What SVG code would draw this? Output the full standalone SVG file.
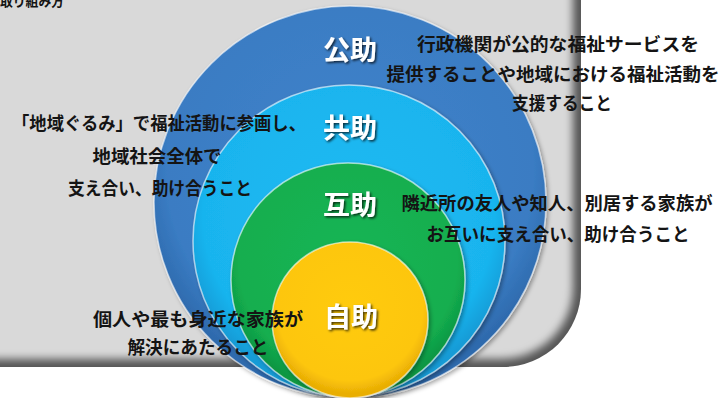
<svg xmlns="http://www.w3.org/2000/svg" width="722" height="398" viewBox="0 0 722 398">
  <defs>
    <style>
      .desc { font-family: "Noto Sans CJK JP", "Noto Sans", sans-serif; font-weight: 700; font-size: 18px; fill: #141414; text-anchor: middle; }
      .label { font-family: "Noto Sans CJK JP", "Noto Sans", sans-serif; font-weight: 700; font-size: 27px; fill: #ffffff; text-anchor: middle; filter: url(#txtShadow); }
      .ring { stroke: #ffffff; stroke-opacity: 0.6; stroke-width: 1.5; filter: url(#circShadow); }
    </style>
    <filter id="txtShadow" x="-20%" y="-20%" width="150%" height="150%">
      <feDropShadow dx="1.5" dy="1.5" stdDeviation="0.8" flood-color="#000" flood-opacity="0.75"/>
    </filter>
    <filter id="circShadow" x="-10%" y="-10%" width="125%" height="125%">
      <feDropShadow dx="2" dy="2" stdDeviation="2" flood-color="#000" flood-opacity="0.35"/>
    </filter>
    <filter id="bevelBlur" x="-10%" y="-10%" width="120%" height="120%">
      <feGaussianBlur stdDeviation="4"/>
    </filter>
    <clipPath id="bgClip">
      <path d="M -20 -20 H 581 V 289 A 78 78 0 0 1 503 367 H -20 Z"/>
    </clipPath>
    <radialGradient id="gBlue" cx="50%" cy="42%" r="55%">
      <stop offset="0" stop-color="#3f83cb"/>
      <stop offset="0.85" stop-color="#3a7cc3"/>
      <stop offset="1" stop-color="#2e6aad"/>
    </radialGradient>
    <radialGradient id="gLight" cx="50%" cy="42%" r="55%">
      <stop offset="0" stop-color="#1fbaf2"/>
      <stop offset="0.85" stop-color="#19b4ee"/>
      <stop offset="1" stop-color="#129bd6"/>
    </radialGradient>
    <radialGradient id="gGreen" cx="50%" cy="42%" r="55%">
      <stop offset="0" stop-color="#17b554"/>
      <stop offset="0.85" stop-color="#13ae4f"/>
      <stop offset="1" stop-color="#0e9743"/>
    </radialGradient>
    <radialGradient id="gYellow" cx="50%" cy="42%" r="55%">
      <stop offset="0" stop-color="#ffcb10"/>
      <stop offset="0.85" stop-color="#fdc60a"/>
      <stop offset="1" stop-color="#e9ae05"/>
    </radialGradient>
  </defs>

  <rect x="0" y="0" width="722" height="398" fill="#ffffff"/>

  <g id="background">
    <path d="M -20 -20 H 581 V 289 A 78 78 0 0 1 503 367 H -20 Z" fill="#555555"/>
    <g clip-path="url(#bgClip)">
      <path d="M -30 -30 H 573 V 287 A 72 72 0 0 1 501 359 H -30 Z" fill="#d9d9d9" filter="url(#bevelBlur)"/>
    </g>
    <text class="desc" x="0" y="6" style="font-size:14px;text-anchor:start" textLength="64" lengthAdjust="spacingAndGlyphs">取り組み方</text>
  </g>

  <g id="node-kojo">
    <circle class="ring" cx="350" cy="202" r="196" fill="url(#gBlue)"/>
    <text class="label" x="350" y="60">公助</text>
    <text class="desc" x="558" y="51" textLength="282" lengthAdjust="spacingAndGlyphs">行政機関が公的な福祉サービスを</text>
    <text class="desc" x="553" y="81" textLength="333" lengthAdjust="spacingAndGlyphs">提供することや地域における福祉活動を</text>
    <text class="desc" x="562" y="110" textLength="100" lengthAdjust="spacingAndGlyphs">支援すること</text>
  </g>

  <g id="node-kyojo">
    <circle class="ring" cx="349" cy="241" r="156" fill="url(#gLight)"/>
    <text class="label" x="350" y="138">共助</text>
    <text class="desc" x="159" y="130" textLength="294" lengthAdjust="spacingAndGlyphs">「地域ぐるみ」で福祉活動に参画し、</text>
    <text class="desc" x="157" y="163" textLength="129" lengthAdjust="spacingAndGlyphs">地域社会全体で</text>
    <text class="desc" x="160" y="195" textLength="184" lengthAdjust="spacingAndGlyphs">支え合い、助け合うこと</text>
  </g>

  <g id="node-gojo">
    <circle class="ring" cx="348" cy="280" r="117" fill="url(#gGreen)"/>
    <text class="label" x="350" y="215">互助</text>
    <text class="desc" x="557" y="210" textLength="311" lengthAdjust="spacingAndGlyphs">隣近所の友人や知人、別居する家族が</text>
    <text class="desc" x="558" y="241" textLength="263" lengthAdjust="spacingAndGlyphs">お互いに支え合い、助け合うこと</text>
  </g>

  <g id="node-jijo">
    <circle class="ring" cx="350" cy="320" r="78" fill="url(#gYellow)"/>
    <text class="label" x="351" y="327">自助</text>
    <text class="desc" x="198" y="326" textLength="210" lengthAdjust="spacingAndGlyphs">個人や最も身近な家族が</text>
    <text class="desc" x="198" y="354" textLength="141" lengthAdjust="spacingAndGlyphs">解決にあたること</text>
  </g>

  <g id="connectors"/>
</svg>
